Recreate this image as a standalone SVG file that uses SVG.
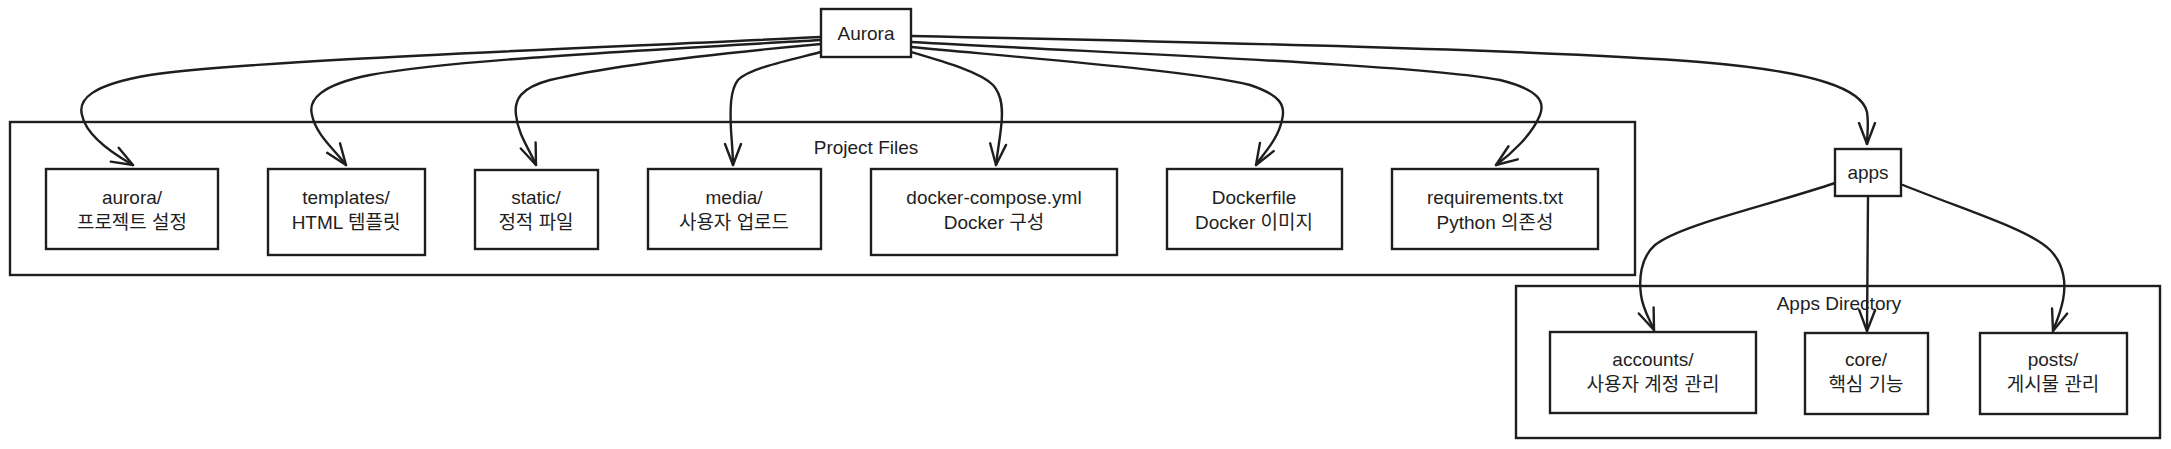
<svg xmlns="http://www.w3.org/2000/svg" width="2171" height="449" viewBox="0 0 2171 449">
<style>
.box{fill:#ffffff;stroke:#1e1e1e;stroke-width:2.4}
.grp{fill:none;stroke:#1e1e1e;stroke-width:2.4}
.t{font-family:"Liberation Sans","Noto Sans CJK KR",sans-serif;font-size:19px;fill:#1e1e1e;text-anchor:middle}
.e{fill:none;stroke:#1e1e1e;stroke-width:2.4;stroke-linecap:round;marker-end:url(#ah)}
</style>
<defs>
<marker id="ah" viewBox="0 0 26 26" refX="23" refY="13" markerWidth="26" markerHeight="26" markerUnits="userSpaceOnUse" orient="auto">
<path d="M2,5 L23,13 L2,21" fill="none" stroke="#1e1e1e" stroke-width="2.4" stroke-linecap="round" stroke-linejoin="round"/>
</marker>
</defs>
<rect width="2171" height="449" fill="#ffffff"/>

<g id="group-project-files">
<rect class="grp" x="10" y="122" width="1625" height="153"/>
<text class="t" x="866" y="154">Project Files</text>
</g>
<g id="group-apps-directory">
<rect class="grp" x="1516" y="286" width="644" height="152"/>
<text class="t" x="1839" y="310">Apps Directory</text>
</g>

<g id="connectors">
<path class="e" d="M821,37 C600,48 250,60 150,75 C90,85 78,100 82,115 C86,135 110,152 133,165"/>
<path class="e" d="M821,40 C650,50 450,60 370,75 C320,85 308,100 312,115 C316,135 335,150 346,165"/>
<path class="e" d="M821,44 C700,55 600,68 550,80 C520,88 514,100 516,115 C518,135 530,150 536,165"/>
<path class="e" d="M821,52 C790,60 750,68 738,80 C730,90 730,110 731,130 C732,145 733,155 733,165"/>
<path class="e" d="M911,52 C945,62 980,72 993,85 C1003,96 1003,112 1001,128 C999,145 997,155 996,165"/>
<path class="e" d="M911,47 C1050,60 1200,72 1250,85 C1280,95 1286,105 1282,120 C1278,140 1262,155 1256,165"/>
<path class="e" d="M911,42 C1150,55 1420,65 1500,80 C1540,90 1545,102 1540,115 C1532,135 1510,155 1496,165"/>
<path class="e" d="M911,36 C1200,42 1550,50 1700,62 C1820,72 1862,90 1867,112 C1869,125 1867,135 1867,144"/>
<path class="e" d="M1835,183 C1760,208 1680,225 1655,245 C1640,258 1639,280 1641,295 C1643,310 1650,320 1654,330"/>
<path class="e" d="M1868,197 L1867,331"/>
<path class="e" d="M1903,185 C1970,212 2030,230 2050,250 C2065,265 2066,285 2063,300 C2060,315 2055,325 2053,331"/>
</g>

<g id="node-aurora-root">
<rect class="box" x="821" y="9" width="90" height="48"/>
<text class="t" x="866" y="40">Aurora</text>
</g>
<g id="node-aurora-dir">
<rect class="box" x="46" y="169" width="172" height="80"/>
<text class="t" x="132" y="204">aurora/</text>
<text class="t" x="132" y="229">프로젝트 설정</text>
</g>
<g id="node-templates">
<rect class="box" x="268" y="169" width="157" height="86"/>
<text class="t" x="346" y="204">templates/</text>
<text class="t" x="346" y="229">HTML 템플릿</text>
</g>
<g id="node-static">
<rect class="box" x="475" y="170" width="123" height="79"/>
<text class="t" x="536" y="204">static/</text>
<text class="t" x="536" y="229">정적 파일</text>
</g>
<g id="node-media">
<rect class="box" x="648" y="169" width="173" height="80"/>
<text class="t" x="734" y="204">media/</text>
<text class="t" x="734" y="229">사용자 업로드</text>
</g>
<g id="node-docker-compose">
<rect class="box" x="871" y="169" width="246" height="86"/>
<text class="t" x="994" y="204">docker-compose.yml</text>
<text class="t" x="994" y="229">Docker 구성</text>
</g>
<g id="node-dockerfile">
<rect class="box" x="1167" y="169" width="175" height="80"/>
<text class="t" x="1254" y="204">Dockerfile</text>
<text class="t" x="1254" y="229">Docker 이미지</text>
</g>
<g id="node-requirements">
<rect class="box" x="1392" y="169" width="206" height="80"/>
<text class="t" x="1495" y="204">requirements.txt</text>
<text class="t" x="1495" y="229">Python 의존성</text>
</g>
<g id="node-apps">
<rect class="box" x="1835" y="149" width="66" height="47"/>
<text class="t" x="1868" y="179">apps</text>
</g>
<g id="node-accounts">
<rect class="box" x="1550" y="332" width="206" height="81"/>
<text class="t" x="1653" y="366">accounts/</text>
<text class="t" x="1653" y="391">사용자 계정 관리</text>
</g>
<g id="node-core">
<rect class="box" x="1805" y="333" width="123" height="81"/>
<text class="t" x="1866" y="366">core/</text>
<text class="t" x="1866" y="391">핵심 기능</text>
</g>
<g id="node-posts">
<rect class="box" x="1980" y="333" width="147" height="81"/>
<text class="t" x="2053" y="366">posts/</text>
<text class="t" x="2053" y="391">게시물 관리</text>
</g>
</svg>
